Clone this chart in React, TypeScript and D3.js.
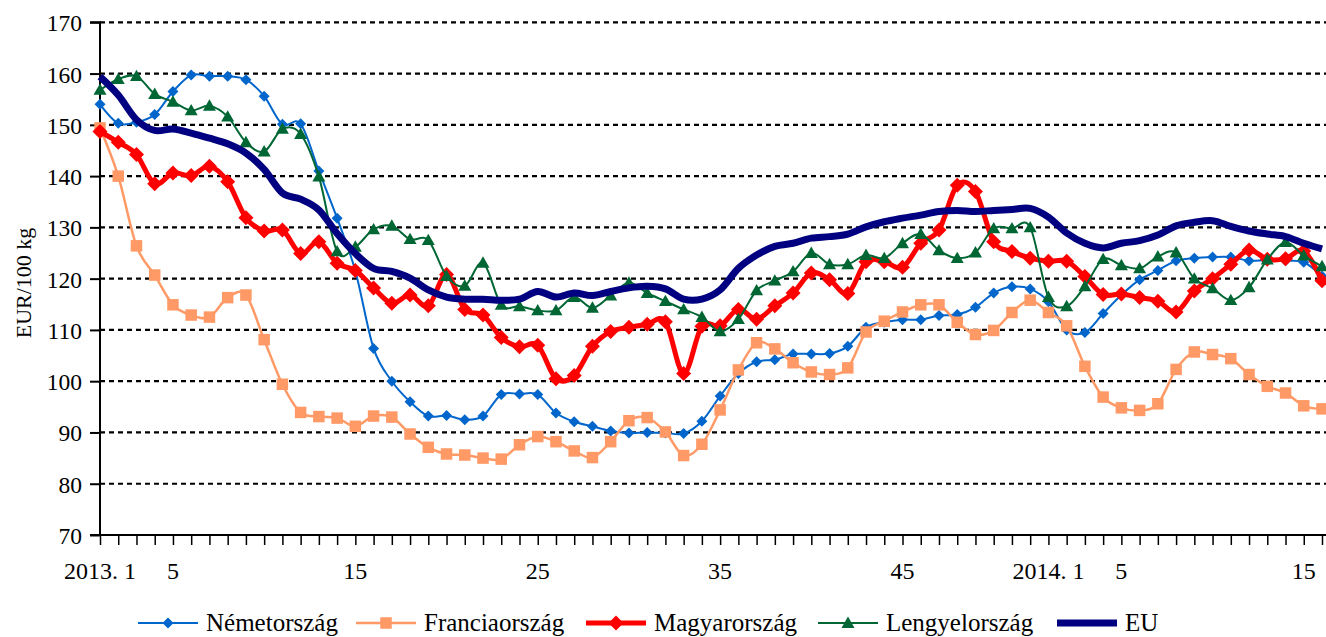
import React, { useEffect, useRef } from 'react';
import * as d3 from 'd3';

// weeks 2013.1 .. 2013.52, 2014.1 .. 2014.16
const weeks = [
  ...d3.range(1, 53).map(w => `2013.${w}`),
  ...d3.range(1, 17).map(w => `2014.${w}`)
];

const tickLabels = [
  { index: 0, label: '2013. 1' },
  { index: 4, label: '5' },
  { index: 14, label: '15' },
  { index: 24, label: '25' },
  { index: 34, label: '35' },
  { index: 44, label: '45' },
  { index: 52, label: '2014. 1' },
  { index: 56, label: '5' },
  { index: 66, label: '15' }
];

const yTicks = [70, 80, 90, 100, 110, 120, 130, 140, 150, 160, 170];

const nemet = [
  154, 150.3, 150.5, 152, 156.5, 159.7, 159.5, 159.5, 158.8, 155.6, 150.1, 150.2, 141, 131.8, 121.5, 106.4,
  100, 96, 93.2, 93.3, 92.5, 93.2, 97.4, 97.5, 97.4, 93.8, 92.1, 91.2, 90.3, 89.9, 90, 89.9,
  89.8, 92.2, 97.1, 101.5, 103.8, 104.2, 105.3, 105.3, 105.4, 106.8, 110.5, 111.5, 112, 112, 112.8, 113,
  114.4, 117.2, 118.4, 118, 115.5, 110, 109.5, 113.2, 116.8, 119.8, 121.6, 123.5, 124, 124.2, 124.2, 123.5,
  123.6, 123.5, 123.2, 120.5
];

const francia = [
  149.4, 140, 126.4, 120.7, 114.9, 112.9, 112.5, 116.3, 116.8, 108.1, 99.4, 93.9, 93.1, 92.8, 91.2, 93.2,
  93, 89.7, 87.1, 85.8, 85.6, 85, 84.8, 87.6, 89.2, 88.2, 86.4, 85.1, 88.2, 92.3, 92.9, 90.1,
  85.5, 87.7, 94.4, 102.2, 107.5, 106.3, 103.6, 101.8, 101.3, 102.6, 109.6, 111.7, 113.5, 114.9, 114.9, 111.5,
  109.1, 109.9, 113.4, 115.8, 113.4, 110.8, 102.9, 96.9, 94.8, 94.3, 95.6, 102.3, 105.7, 105.2, 104.4, 101.3,
  99, 97.7, 95.2, 94.6
];

const magyar = [
  148.7, 146.6, 144.2, 138.5, 140.6, 140.1, 141.9, 138.9, 131.9, 129.3, 129.5, 124.9, 127.2, 123, 121.6, 118.2,
  115.2, 116.8, 114.7, 120.8, 114, 112.9, 108.5, 106.7, 107, 100.5, 101.1, 106.8, 109.7, 110.5, 111.1, 111.6,
  101.5, 110.7, 110.8, 114, 112.1, 114.7, 117.2, 121.1, 119.8, 117.1, 123.3, 123.3, 122.2, 126.9, 129.5, 138.2,
  137, 127.2, 125.3, 124, 123.4, 123.4, 120.4, 116.9, 117, 116.3, 115.6, 113.5, 117.6, 120, 122.8, 125.6,
  123.8, 123.9, 125.4, 119.6
];

const lengyel = [
  156.8, 158.9, 159.5, 156, 154.5, 152.8, 153.7, 151.6, 146.6, 144.8, 149.2, 148.2, 139.9, 125.3, 126.2, 129.6,
  130.3, 127.7, 127.5, 120.5, 118.6, 123.1, 114.9, 114.6, 113.8, 113.8, 116.4, 114.3, 116.7, 119.2, 117.2, 115.6,
  114, 112.5, 109.7, 112.1, 117.7, 119.6, 121.4, 125, 122.8, 122.8, 124.6, 124, 126.9, 128.7, 125.5, 124,
  125.1, 129.8, 129.8, 130, 116.4, 114.6, 118.5, 123.8, 122.6, 122, 124.3, 125.1, 120, 118.1, 115.8, 118.3,
  123.7, 127.1, 124.5, 122.4
];

const eu = [
  159.4, 155.8, 151, 148.9, 149.2, 148.4, 147.4, 146.3, 144.5, 141.3, 136.7, 135.5, 133.4, 128.8, 124.9, 122,
  121.4, 120.1, 117.8, 116.4, 116, 116, 115.8, 116, 117.5, 116.4, 117.2, 116.7, 117.5, 118.2, 118.5, 118,
  116, 116, 117.8, 122, 124.6, 126.3, 126.9, 127.9, 128.2, 128.7, 130.1, 131.1, 131.8, 132.4, 133.1, 133.3,
  133.1, 133.3, 133.5, 133.7, 132, 128.9, 126.9, 126, 126.9, 127.4, 128.5, 130.3, 131, 131.3, 130.2, 129.3,
  128.7, 128.2, 126.9, 125.8
];

const series = [
  { name: 'Németország', values: nemet, color: '#0066CC', width: 2, marker: 'diamond', size: 11, legendX: 138 },
  { name: 'Franciaország', values: francia, color: '#FF9966', width: 2.5, marker: 'square', size: 11.5, legendX: 356 },
  { name: 'Magyarország', values: magyar, color: '#FF0000', width: 5, marker: 'diamond', size: 15, legendX: 586 },
  { name: 'Lengyelország', values: lengyel, color: '#006633', width: 2, marker: 'triangle', size: 13, legendX: 818 },
  { name: 'EU', values: eu, color: '#000080', width: 7, marker: 'none', size: 0, legendX: 1057 }
];

const FONT = '"Liberation Serif", "Times New Roman", serif';

function markerPath(type, s) {
  const h = s / 2;
  if (type === 'diamond') return `M0,${-h}L${h},0L0,${h}L${-h},0Z`;
  if (type === 'square') return `M${-h},${-h}H${h}V${h}H${-h}Z`;
  if (type === 'triangle') return `M0,${-h}L${h},${h * 0.75}L${-h},${h * 0.75}Z`;
  return '';
}

export default function App() {
  const ref = useRef(null);

  useEffect(() => {
    const svg = d3.select(ref.current);
    svg.selectAll('*').remove();

    const left = 100, right = 1322, top = 22.3, bottom = 535;

    const x = d3.scaleLinear().domain([0, weeks.length - 1]).range([left, right]);
    const y = d3.scaleLinear().domain([70, 170]).range([bottom, top]);

    // grid lines
    svg.append('g')
      .selectAll('line')
      .data(yTicks.filter(t => t > 70))
      .enter()
      .append('line')
      .attr('x1', left)
      .attr('x2', 1326)
      .attr('y1', d => y(d))
      .attr('y2', d => y(d))
      .attr('stroke', '#000')
      .attr('stroke-width', 2.2)
      .attr('stroke-dasharray', '5,4');

    // y axis
    const yAxis = d3.axisLeft(y).tickValues(yTicks).tickSize(10).tickPadding(8).tickFormat(d3.format('d'));
    const gy = svg.append('g').attr('transform', `translate(${left},0)`).call(yAxis);
    gy.select('.domain').attr('stroke', '#000').attr('stroke-width', 2).attr('d', `M-10,${bottom}H0V${top}H-10`);
    gy.selectAll('.tick line').attr('stroke', '#000').attr('stroke-width', 2);
    gy.selectAll('.tick text')
      .attr('fill', '#000')
      .attr('font-family', FONT)
      .attr('font-size', 23.5)
      .attr('dy', '0.36em');

    // x axis
    const xAxis = d3.axisBottom(x).tickValues(d3.range(weeks.length)).tickSize(10).tickFormat(() => '');
    const gx = svg.append('g').attr('transform', `translate(0,${bottom})`).call(xAxis);
    gx.select('.domain').attr('stroke', '#000').attr('stroke-width', 2).attr('d', `M${left},0H1326`);
    gx.selectAll('.tick line').attr('stroke', '#000').attr('stroke-width', 1.5);

    svg.append('g')
      .selectAll('text')
      .data(tickLabels)
      .enter()
      .append('text')
      .attr('x', d => x(d.index))
      .attr('y', 579)
      .attr('text-anchor', 'middle')
      .attr('font-family', FONT)
      .attr('font-size', 24)
      .text(d => d.label);

    // y title
    svg.append('text')
      .attr('transform', 'translate(31,283) rotate(-90)')
      .attr('text-anchor', 'middle')
      .attr('font-family', FONT)
      .attr('font-size', 22)
      .text('EUR/100 kg');

    const line = d3.line()
      .x((d, i) => x(i))
      .y(d => y(d))
      .curve(d3.curveCardinal.tension(0));

    series.forEach(s => {
      const g = svg.append('g');
      g.append('path')
        .attr('d', line(s.values))
        .attr('fill', 'none')
        .attr('stroke', s.color)
        .attr('stroke-width', s.width)
        .attr('stroke-linejoin', 'round');
      if (s.marker !== 'none') {
        g.selectAll('path.m')
          .data(s.values)
          .enter()
          .append('path')
          .attr('class', 'm')
          .attr('d', markerPath(s.marker, s.size))
          .attr('transform', (d, i) => `translate(${x(i)},${y(d)})`)
          .attr('fill', s.color);
      }
    });

    // legend
    const lg = svg.append('g');
    series.forEach(s => {
      const gi = lg.append('g').attr('transform', `translate(${s.legendX},623)`);
      gi.append('line')
        .attr('x1', 0).attr('x2', 60)
        .attr('stroke', s.color)
        .attr('stroke-width', s.name === 'EU' ? 7 : s.width);
      if (s.marker !== 'none') {
        gi.append('path')
          .attr('d', markerPath(s.marker, s.size))
          .attr('transform', 'translate(30,0)')
          .attr('fill', s.color);
      }
      gi.append('text')
        .attr('x', 68)
        .attr('y', 8)
        .attr('font-family', FONT)
        .attr('font-size', 25)
        .text(s.name);
    });
  }, []);

  return (
    <svg ref={ref} width={1326} height={637}
      style={{ position: 'absolute', left: 0, top: 0, background: '#fff' }} />
  );
}
